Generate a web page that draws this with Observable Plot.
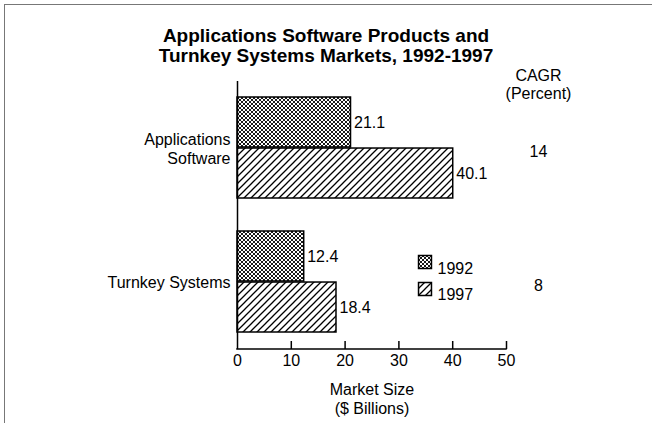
<!DOCTYPE html>
<html>
<head>
<meta charset="utf-8">
<script src="https://cdn.jsdelivr.net/npm/d3@7"></script>
<script src="https://cdn.jsdelivr.net/npm/@observablehq/plot@0.6"></script>
<style>
  html, body { margin: 0; padding: 0; background: #fff; }
  #wrap { position: relative; width: 652px; height: 423px; overflow: hidden; font-family: "Liberation Sans", Arial, Helvetica, sans-serif; }
  #wrap::before { content: ""; position: absolute; left: 4px; top: 4px; width: 660px; height: 430px; border-top: 1.5px solid #777; border-left: 1.5px solid #777; pointer-events: none; }
  #title { height: 64px; box-sizing: border-box; padding-top: 26px; text-align: center; font-weight: bold; font-size: 19px; line-height: 20px; color: #000; }
  svg { display: block; }
</style>
</head>
<body>
<div id="wrap">
  <div id="title">Applications Software Products and<br>Turnkey Systems Markets, 1992-1997</div>
  <div id="chart"></div>
</div>
<script>
const categories = ["Applications Software", "Turnkey Systems"];
const years = ["1992", "1997"];
const values1992 = [21.1, 12.4];
const values1997 = [40.1, 18.4];
const cagr = [14, 8];
const xTicks = [0, 10, 20, 30, 40, 50];
const cagrHeader = "CAGR\n(Percent)";
const xLabel = "Market Size\n($ Billions)";

const d92 = categories.map((c, i) => ({category: c, value: values1992[i]}));
const d97 = categories.map((c, i) => ({category: c, value: values1997[i]}));
const dCagr = categories.map((c, i) => ({category: c, cagr: cagr[i]}));

const W = 652, H = 359;
const mTop = 17, mBottom = 74, mLeft = 237, mRight = 146;
const plotH = H - mTop - mBottom;
const pInner = 0.244, pOuter = 0.1146;
const step = plotH / (categories.length - pInner + 2 * pOuter);
const bw = step * (1 - pInner);
const half = bw / 2;
const FS = 16;

const fmtCat = d => d === "Applications Software" ? "Applications\nSoftware" : d;

const plot = Plot.plot({
  width: W,
  height: H,
  marginTop: mTop,
  marginBottom: mBottom,
  marginLeft: mLeft,
  marginRight: mRight,
  style: {fontFamily: "'Liberation Sans', Arial, Helvetica, sans-serif", fontSize: FS + "px", color: "#000", background: "transparent", overflow: "visible"},
  x: {domain: [0, 50]},
  y: {domain: categories, paddingInner: pInner, paddingOuter: pOuter, label: null},
  marks: [
    Plot.barX(d92, {x: "value", y: "category", fill: "url(#p92)", stroke: "#000", strokeWidth: 1.5, insetBottom: half}),
    Plot.barX(d97, {x: "value", y: "category", fill: "url(#p97)", stroke: "#000", strokeWidth: 1.5, insetTop: half}),
    Plot.text(d92, {x: "value", y: "category", text: d => d.value.toFixed(1), dy: -half / 2, dx: 3, textAnchor: "start", fontSize: FS}),
    Plot.text(d97, {x: "value", y: "category", text: d => d.value.toFixed(1), dy: half / 2, dx: 3, textAnchor: "start", fontSize: FS}),
    Plot.ruleX(xTicks.filter(d => d > 0), {x: d => d, insetTop: plotH - 8, strokeWidth: 1.5}),
    Plot.ruleX([0], {strokeWidth: 1.5}),
    Plot.axisX({ticks: xTicks, tickSize: 0, tickPadding: 5, fontSize: FS, label: null}),
    Plot.text([xLabel], {text: d => d, frameAnchor: "bottom", dy: 48.5, lineAnchor: "middle", lineHeight: 1.19, fontSize: FS}),
    Plot.axisY({tickSize: 0, tickPadding: 7, fontSize: FS, lineHeight: 1.2, tickFormat: fmtCat, label: null}),
    Plot.text(dCagr, {y: "category", text: d => String(d.cagr), frameAnchor: "right", dx: 32, dy: 4, textAnchor: "middle", fontSize: FS}),
    Plot.text([cagrHeader], {text: d => d, frameAnchor: "top-right", dx: 32, dy: 3, textAnchor: "middle", lineAnchor: "middle", lineHeight: 1.13, fontSize: FS}),
    Plot.dot([years[0]], {frameAnchor: "top-left", dx: 424.5 - mLeft, dy: 261.5 - 64 - mTop, symbol: "square", r: 7.3, fill: "url(#p92)", stroke: "#000", strokeWidth: 1.5}),
    Plot.dot([years[1]], {frameAnchor: "top-left", dx: 424.5 - mLeft, dy: 288.5 - 64 - mTop, symbol: "square", r: 7.3, fill: "url(#p97)", stroke: "#000", strokeWidth: 1.5}),
    Plot.text([years[0]], {text: d => d, frameAnchor: "top-left", dx: 437 - mLeft, dy: 262 - 64 - mTop, textAnchor: "start", fontSize: FS}),
    Plot.text([years[1]], {text: d => d, frameAnchor: "top-left", dx: 437 - mLeft, dy: 288 - 64 - mTop, textAnchor: "start", fontSize: FS})
  ]
});

const svg = d3.select(plot);
const defs = svg.insert("defs", ":first-child");
const p92 = defs.append("pattern").attr("id", "p92").attr("patternUnits", "userSpaceOnUse").attr("width", 4).attr("height", 4);
p92.append("rect").attr("width", 4).attr("height", 4).attr("fill", "#fff");
p92.append("path").attr("d", "M0,0L4,4M4,0L0,4M-1,1L1,-1M3,5L5,3M-1,3L1,5M3,-1L5,1").attr("stroke", "#000").attr("stroke-width", 0.9);
const p97 = defs.append("pattern").attr("id", "p97").attr("patternUnits", "userSpaceOnUse").attr("width", 7).attr("height", 7);
p97.append("rect").attr("width", 7).attr("height", 7).attr("fill", "#fff");
p97.append("path").attr("d", "M0,7L7,0M-1,1L1,-1M6,8L8,6").attr("stroke", "#000").attr("stroke-width", 1.3);

// x-axis baseline drawn through the plot's own x scale
const xs = plot.scale("x");
svg.append("line")
  .attr("x1", xs.apply(xTicks[0])).attr("x2", xs.apply(xTicks[xTicks.length - 1]))
  .attr("y1", H - mBottom).attr("y2", H - mBottom)
  .attr("stroke", "#000").attr("stroke-width", 1.5).attr("stroke-linecap", "square");

document.getElementById("chart").appendChild(plot);
</script>
</body>
</html>
